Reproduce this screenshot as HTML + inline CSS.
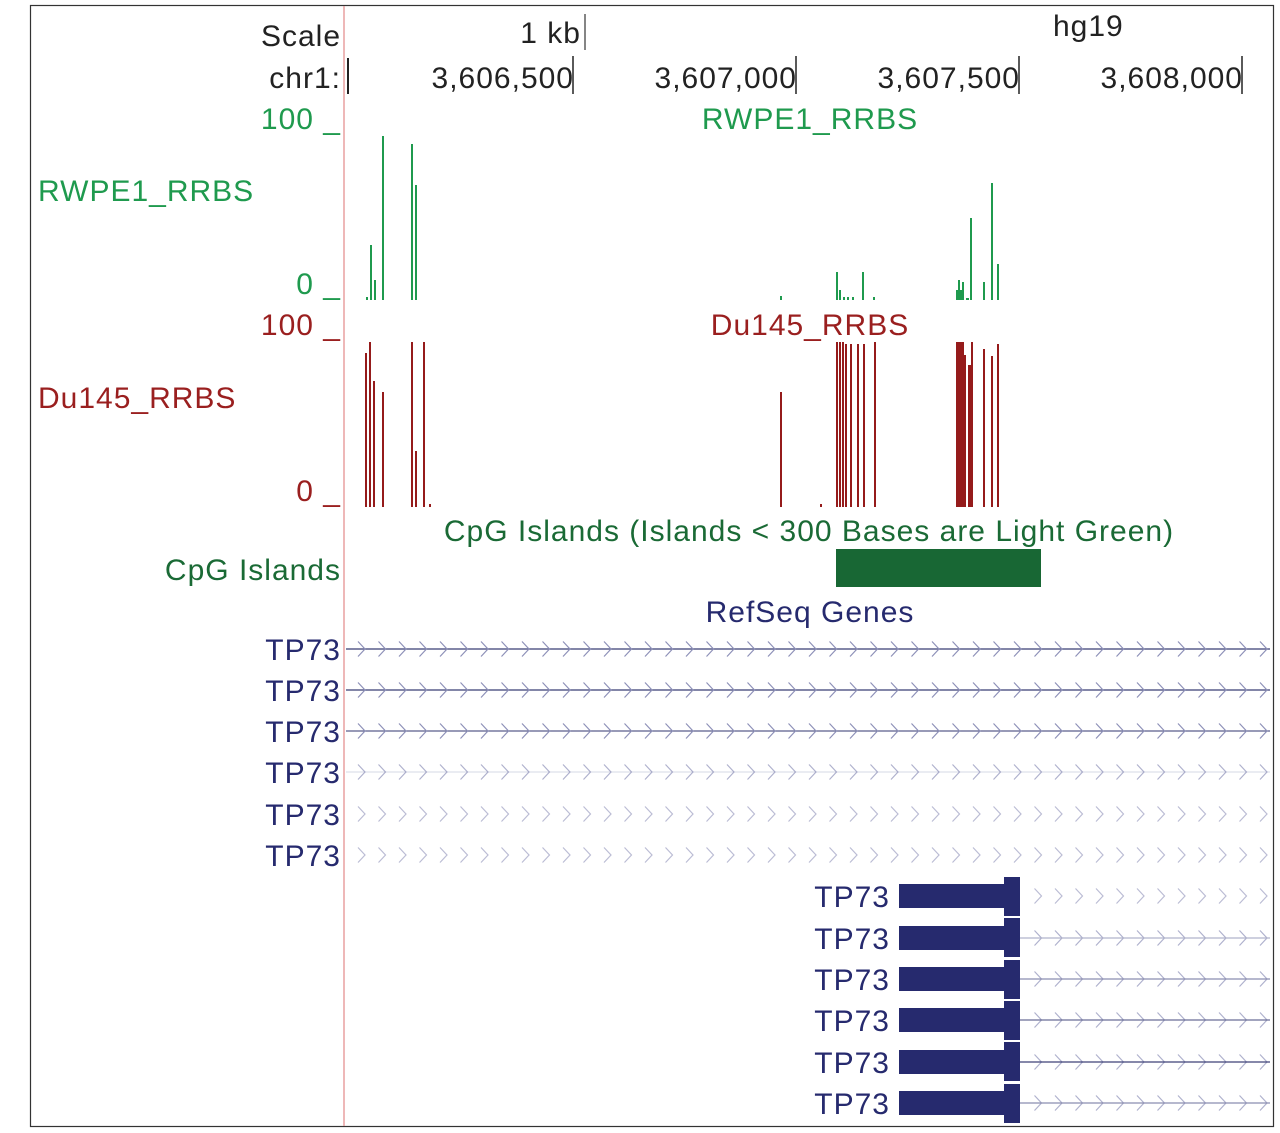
<!DOCTYPE html>
<html><head><meta charset="utf-8"><style>
html,body{margin:0;padding:0;background:#fff;}
svg{display:block;font-family:"Liberation Sans",sans-serif;}
svg text{font-size:30px;letter-spacing:1px;}
</style></head><body>
<svg width="1280" height="1133" viewBox="0 0 1280 1133" xmlns="http://www.w3.org/2000/svg">
<defs>
<pattern id="chev" x="352" y="0" width="20.5" height="18" patternUnits="userSpaceOnUse">
<polyline points="6,1.5 13,9 6,16.5" fill="none" stroke="#8d90b8" stroke-width="1.2"/>
</pattern>
</defs>
<rect x="30.5" y="5.5" width="1243" height="1121" fill="#fff" stroke="#333" stroke-width="1.2"/>
<line x1="344" y1="6" x2="344" y2="1126" stroke="#e8a0a0" stroke-width="1.5"/>

<g fill="#222">
<text x="341" y="46" text-anchor="end">Scale</text>
<text x="581" y="43" text-anchor="end">1 kb</text>
<line x1="585" y1="14" x2="585" y2="50" stroke="#333" stroke-width="1.2"/>
<text x="1053" y="36">hg19</text>
<text x="341" y="88" text-anchor="end">chr1:</text>
<line x1="348" y1="58" x2="348" y2="94" stroke="#222" stroke-width="2"/>
<text x="574" y="88" text-anchor="end">3,606,500</text>
<line x1="573" y1="56" x2="573" y2="94" stroke="#222" stroke-width="1.5"/>
<text x="797" y="88" text-anchor="end">3,607,000</text>
<line x1="796" y1="56" x2="796" y2="94" stroke="#222" stroke-width="1.5"/>
<text x="1020" y="88" text-anchor="end">3,607,500</text>
<line x1="1019" y1="56" x2="1019" y2="94" stroke="#222" stroke-width="1.5"/>
<text x="1243" y="88" text-anchor="end">3,608,000</text>
<line x1="1242" y1="56" x2="1242" y2="94" stroke="#222" stroke-width="1.5"/>
</g>

<g fill="#1f9a4e">
<text x="341" y="129" text-anchor="end">100 _</text>
<text x="341" y="294" text-anchor="end">0 _</text>
<text x="810" y="129" text-anchor="middle">RWPE1_RRBS</text>
<text x="38" y="201">RWPE1_RRBS</text>
</g>
<g stroke="#1f9a4e" stroke-width="2">
<line x1="367" y1="300" x2="367" y2="297"/>
<line x1="371" y1="300" x2="371" y2="245"/>
<line x1="375" y1="300" x2="375" y2="280"/>
<line x1="383" y1="300" x2="383" y2="136"/>
<line x1="412" y1="300" x2="412" y2="144"/>
<line x1="416" y1="300" x2="416" y2="185"/>
<line x1="781" y1="300" x2="781" y2="296"/>
<line x1="837" y1="300" x2="837" y2="272"/>
<line x1="840" y1="300" x2="840" y2="290"/>
<line x1="844" y1="300" x2="844" y2="297"/>
<line x1="848" y1="300" x2="848" y2="297"/>
<line x1="853" y1="300" x2="853" y2="297"/>
<line x1="863" y1="300" x2="863" y2="272"/>
<line x1="874" y1="300" x2="874" y2="297"/>
<line x1="959" y1="300" x2="959" y2="280"/>
<line x1="963" y1="300" x2="963" y2="282"/>
<line x1="971" y1="300" x2="971" y2="218"/>
<line x1="984" y1="300" x2="984" y2="282"/>
<line x1="992" y1="300" x2="992" y2="183"/>
<line x1="998" y1="300" x2="998" y2="264"/>
</g>
<rect x="956" y="290" width="7" height="10" fill="#1f9a4e"/>
<line x1="966" y1="299" x2="969" y2="299" stroke="#1f9a4e" stroke-width="2"/>

<g fill="#9a1f1f">
<text x="341" y="335" text-anchor="end">100 _</text>
<text x="341" y="501" text-anchor="end">0 _</text>
<text x="810" y="335" text-anchor="middle">Du145_RRBS</text>
<text x="38" y="408">Du145_RRBS</text>
</g>
<g stroke="#951b1b" stroke-width="2">
<line x1="366" y1="507" x2="366" y2="353"/>
<line x1="370" y1="507" x2="370" y2="342"/>
<line x1="374" y1="507" x2="374" y2="381"/>
<line x1="383" y1="507" x2="383" y2="392"/>
<line x1="412" y1="507" x2="412" y2="342"/>
<line x1="416" y1="507" x2="416" y2="451"/>
<line x1="424" y1="507" x2="424" y2="342"/>
<line x1="430" y1="507" x2="430" y2="504"/>
<line x1="781" y1="507" x2="781" y2="392"/>
<line x1="821" y1="507" x2="821" y2="504"/>
<line x1="837" y1="507" x2="837" y2="342"/>
<line x1="840" y1="507" x2="840" y2="342"/>
<line x1="843" y1="507" x2="843" y2="342"/>
<line x1="846" y1="507" x2="846" y2="344"/>
<line x1="851" y1="507" x2="851" y2="344"/>
<line x1="858" y1="507" x2="858" y2="344"/>
<line x1="864" y1="507" x2="864" y2="344"/>
<line x1="875" y1="507" x2="875" y2="342"/>
<line x1="972" y1="507" x2="972" y2="342"/>
<line x1="984" y1="507" x2="984" y2="349"/>
<line x1="992" y1="507" x2="992" y2="356"/>
<line x1="998" y1="507" x2="998" y2="344"/>
</g>
<rect x="956" y="342" width="8" height="165" fill="#951b1b"/>
<rect x="964" y="355" width="2" height="152" fill="#951b1b"/>
<rect x="968" y="365" width="3" height="142" fill="#951b1b"/>

<g fill="#1a6a35">
<text x="809" y="541" text-anchor="middle">CpG Islands (Islands &lt; 300 Bases are Light Green)</text>
<text x="341" y="580" text-anchor="end">CpG Islands</text>
</g>
<rect x="836" y="549" width="205" height="38" fill="#186734"/>

<text x="810" y="622" text-anchor="middle" fill="#262a6e">RefSeq Genes</text>

<g fill="#262a6e" text-anchor="end">
<text x="341" y="660">TP73</text>
<text x="341" y="701">TP73</text>
<text x="341" y="742">TP73</text>
<text x="341" y="783">TP73</text>
<text x="341" y="825">TP73</text>
<text x="341" y="866">TP73</text>
<text x="890" y="907">TP73</text>
<text x="890" y="949">TP73</text>
<text x="890" y="990">TP73</text>
<text x="890" y="1031">TP73</text>
<text x="890" y="1073">TP73</text>
<text x="890" y="1114">TP73</text>
</g>

<g stroke="#5a5e8c">
<line x1="346" y1="649" x2="1270" y2="649" stroke-width="1.5"/>
<line x1="346" y1="690" x2="1270" y2="690" stroke-width="1.5"/>
<line x1="346" y1="731" x2="1270" y2="731" stroke-width="1.2"/>
<line x1="346" y1="772" x2="1270" y2="772" stroke-width="1" stroke="#d6d8e6"/>
</g>
<g transform="translate(0,640)"><rect x="352" y="0" width="918" height="18" fill="url(#chev)"/></g>
<g transform="translate(0,681)"><rect x="352" y="0" width="918" height="18" fill="url(#chev)"/></g>
<g transform="translate(0,722)"><rect x="352" y="0" width="918" height="18" fill="url(#chev)"/></g>
<g transform="translate(0,763)" opacity="0.7"><rect x="352" y="0" width="918" height="18" fill="url(#chev)"/></g>
<g transform="translate(0,805)" opacity="0.6"><rect x="352" y="0" width="918" height="18" fill="url(#chev)"/></g>
<g transform="translate(0,846)" opacity="0.6"><rect x="352" y="0" width="918" height="18" fill="url(#chev)"/></g>
<g transform="translate(0,887)" opacity="0.6"><rect x="1022" y="0" width="248" height="18" fill="url(#chev)"/></g>
<g transform="translate(0,929)" opacity="0.7"><rect x="1022" y="0" width="248" height="18" fill="url(#chev)"/></g>
<g transform="translate(0,970)" opacity="0.7"><rect x="1022" y="0" width="248" height="18" fill="url(#chev)"/></g>
<g transform="translate(0,1011)" opacity="0.7"><rect x="1022" y="0" width="248" height="18" fill="url(#chev)"/></g>
<g transform="translate(0,1053)" opacity="0.7"><rect x="1022" y="0" width="248" height="18" fill="url(#chev)"/></g>
<g transform="translate(0,1094)" opacity="0.7"><rect x="1022" y="0" width="248" height="18" fill="url(#chev)"/></g>
<g stroke-width="1.3">
<line x1="1020" y1="938" x2="1270" y2="938" stroke="#b0b3cc"/>
<line x1="1020" y1="979" x2="1270" y2="979" stroke="#8a8db0"/>
<line x1="1020" y1="1020" x2="1270" y2="1020" stroke="#6a6e96"/>
<line x1="1020" y1="1062" x2="1270" y2="1062" stroke="#3d4178"/>
<line x1="1020" y1="1103" x2="1270" y2="1103" stroke="#8a8db0"/>
</g>
<g fill="#262a6e">
<rect x="899" y="884" width="106" height="24"/><rect x="1004" y="877" width="16" height="39"/>
<rect x="899" y="926" width="106" height="24"/><rect x="1004" y="918" width="16" height="39"/>
<rect x="899" y="967" width="106" height="24"/><rect x="1004" y="960" width="16" height="39"/>
<rect x="899" y="1008" width="106" height="24"/><rect x="1004" y="1001" width="16" height="39"/>
<rect x="899" y="1050" width="106" height="24"/><rect x="1004" y="1042" width="16" height="39"/>
<rect x="899" y="1091" width="106" height="24"/><rect x="1004" y="1084" width="16" height="39"/>
</g>
</svg>
</body></html>
